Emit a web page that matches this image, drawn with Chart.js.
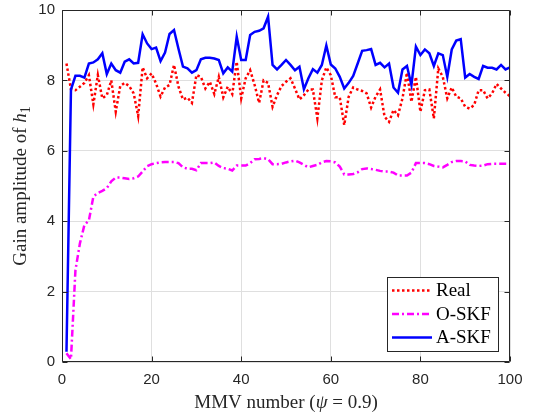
<!DOCTYPE html>
<html><head><meta charset="utf-8">
<script src="https://cdn.jsdelivr.net/npm/chart.js@4/dist/chart.umd.min.js"></script>
<style>html,body{margin:0;padding:0;background:#fff}#wrap{width:533px;height:416px}</style>
</head><body><div id="wrap"><canvas id="c" width="533" height="416"></canvas></div>
<script>
const mmv = [1,2,3,4,5,6,7,8,9,10,11,12,13,14,15,16,17,18,19,20,21,22,23,24,25,26,27,28,29,30,31,32,33,34,35,36,37,38,39,40,41,42,43,44,45,46,47,48,49,50,51,52,53,54,55,56,57,58,59,60,61,62,63,64,65,66,67,68,69,70,71,72,73,74,75,76,77,78,79,80,81,82,83,84,85,86,87,88,89,90,91,92,93,94,95,96,97,98,99,100];
const real = [8.48,7.75,7.72,7.82,7.93,8.15,7.32,8.15,7.49,7.58,
 8.0,7.11,7.84,7.93,7.84,7.63,6.99,8.37,8.06,8.2,
 7.91,7.54,7.8,7.87,8.44,7.82,7.46,7.51,7.36,8.15,
 8.1,7.77,7.96,7.61,8.1,7.52,7.82,7.61,8.53,7.49,
 8.06,8.29,7.87,7.36,8.0,7.93,7.25,7.58,7.84,7.96,
 8.06,7.77,7.46,7.58,7.74,7.74,6.92,8.0,8.37,8.15,
 7.52,7.52,6.73,7.54,7.8,7.74,7.7,7.63,7.23,7.54,
 7.74,6.97,6.82,7.16,7.01,7.49,8.22,7.39,8.1,7.11,
 7.72,7.74,6.92,8.34,8.1,7.49,7.8,7.54,7.49,7.25,
 7.2,7.3,7.72,7.72,7.49,7.63,7.9,7.77,7.65,7.55];
const oskf = [0.25,0.08,2.61,3.37,3.89,4.02,4.7,4.8,4.86,4.94,
 5.13,5.24,5.24,5.22,5.2,5.22,5.27,5.41,5.56,5.62,
 5.65,5.67,5.68,5.68,5.68,5.65,5.53,5.49,5.49,5.45,
 5.65,5.65,5.65,5.67,5.57,5.51,5.49,5.44,5.58,5.58,
 5.58,5.65,5.76,5.77,5.79,5.76,5.62,5.62,5.63,5.67,
 5.7,5.72,5.67,5.6,5.53,5.57,5.6,5.67,5.71,5.7,
 5.67,5.55,5.33,5.33,5.34,5.39,5.48,5.5,5.48,5.46,
 5.43,5.41,5.41,5.38,5.3,5.3,5.3,5.38,5.65,5.65,
 5.65,5.62,5.57,5.55,5.53,5.6,5.68,5.71,5.71,5.7,
 5.6,5.58,5.57,5.58,5.62,5.63,5.63,5.63,5.63,5.63];
const askf = [0.29,7.74,8.13,8.13,8.08,8.48,8.51,8.6,8.77,8.18,
 8.48,8.29,8.22,8.53,8.6,8.48,8.5,9.31,9.05,8.89,
 8.93,8.55,8.79,9.32,9.43,8.9,8.39,8.34,8.22,8.29,
 8.6,8.64,8.64,8.62,8.58,8.2,8.37,8.25,9.24,8.58,
 8.58,9.29,9.38,9.41,9.48,9.81,8.44,8.31,8.44,8.58,
 8.44,8.29,8.39,7.75,8.06,8.32,8.22,8.44,8.99,8.45,
 8.34,8.1,7.77,7.93,8.13,8.48,8.84,8.86,8.89,8.44,
 8.5,8.37,8.48,7.8,7.65,8.31,8.41,7.87,8.96,8.72,
 8.88,8.77,8.41,8.77,8.72,8.1,8.88,9.13,9.17,8.08,
 8.18,8.1,8.04,8.41,8.36,8.36,8.31,8.44,8.31,8.37];
const seriesNames = ['Real', 'O-SKF', 'A-SKF'];
const xTicks = [0, 20, 40, 60, 80, 100];
const yTicks = [0, 2, 4, 6, 8, 10];
const xTitleParts = ['MMV number (', 'ψ', ' = 0.9)'];
const yTitleParts = ['Gain amplitude of ', 'h', '1'];

const pts = arr => mmv.map((x, i) => ({x: x, y: arr[i]}));
const AX = '#262626';
const SERIF = '"Liberation Serif", "Times New Roman", serif';

const deco = {
  id: 'deco',
  afterDraw(chart) {
    const ctx = chart.ctx, a = chart.chartArea, xs = chart.scales.x, ys = chart.scales.y;
    ctx.save();
    ctx.strokeStyle = AX; ctx.lineWidth = 1;
    const L = Math.round(a.left) + 0.5, R = Math.round(a.right) - 0.5;
    const T = Math.round(a.top) + 0.5, B = Math.round(a.bottom) - 0.5;
    ctx.beginPath();
    ctx.rect(L, T, R - L, B - T);
    xTicks.forEach(v => {
      const p = Math.round(xs.getPixelForValue(v)) + 0.5;
      ctx.moveTo(p, B); ctx.lineTo(p, B - 5);
      ctx.moveTo(p, T); ctx.lineTo(p, T + 5);
    });
    yTicks.forEach(v => {
      const p = Math.round(ys.getPixelForValue(v)) + 0.5;
      ctx.moveTo(L, p); ctx.lineTo(L + 5, p);
      ctx.moveTo(R, p); ctx.lineTo(R - 5, p);
    });
    ctx.stroke();

    // legend
    const lx = 387.5, ly = 277.5, lw = 111, lh = 74;
    ctx.fillStyle = '#fff';
    ctx.fillRect(lx, ly, lw, lh);
    ctx.strokeStyle = AX; ctx.lineWidth = 1;
    ctx.strokeRect(lx, ly, lw, lh);
    const rows = [290.5, 314, 337.5];
    chart.data.datasets.forEach((ds, i) => {
      const y = rows[i];
      ctx.save();
      ctx.strokeStyle = ds.borderColor; ctx.lineWidth = ds.borderWidth;
      ctx.setLineDash(ds.borderDash || []);
      ctx.beginPath(); ctx.moveTo(392, y); ctx.lineTo(432, y); ctx.stroke();
      ctx.restore();
      ctx.fillStyle = '#000';
      ctx.font = '19px ' + SERIF;
      ctx.textBaseline = 'middle'; ctx.textAlign = 'left';
      ctx.fillText(ds.label, 436, y + 1);
    });

    // x title
    ctx.fillStyle = '#262626';
    ctx.textBaseline = 'middle'; ctx.textAlign = 'left';
    const fN = '19px ' + SERIF, fI = 'italic 19px ' + SERIF;
    const fonts = [fN, fI, fN];
    let w = 0;
    xTitleParts.forEach((t, i) => { ctx.font = fonts[i]; w += ctx.measureText(t).width; });
    let x = (a.left + a.right) / 2 - w / 2;
    xTitleParts.forEach((t, i) => { ctx.font = fonts[i]; ctx.fillText(t, x, 403); x += ctx.measureText(t).width; });

    // y title
    ctx.save();
    ctx.translate(21, (a.top + a.bottom) / 2);
    ctx.rotate(-Math.PI / 2);
    const yf = [fN, fI, '14px ' + SERIF];
    const yoff = [0, 0, 5];
    w = 0;
    yTitleParts.forEach((t, i) => { ctx.font = yf[i]; w += ctx.measureText(t).width; });
    x = -w / 2;
    yTitleParts.forEach((t, i) => { ctx.font = yf[i]; ctx.fillText(t, x, yoff[i]); x += ctx.measureText(t).width; });
    ctx.restore();
    ctx.restore();
  }
};

new Chart(document.getElementById('c'), {
  type: 'line',
  data: {
    datasets: [
      {label: seriesNames[0], data: pts(real), borderColor: '#ff0000', borderWidth: 2.5, borderDash: [2.5, 2.5], order: 3},
      {label: seriesNames[1], data: pts(oskf), borderColor: '#ff00ff', borderWidth: 2.5, borderDash: [7, 3, 2, 3], order: 2},
      {label: seriesNames[2], data: pts(askf), borderColor: '#0000ff', borderWidth: 2.5, order: 1}
    ]
  },
  options: {
    responsive: false,
    devicePixelRatio: 1,
    animation: false,
    layout: {autoPadding: false, padding: {left: 0, right: 23, top: 10, bottom: 0}},
    elements: {point: {radius: 0}, line: {tension: 0, fill: false}},
    plugins: {legend: {display: false}, tooltip: {enabled: false}},
    scales: {
      x: {
        type: 'linear', min: 0, max: 100,
        afterBuildTicks: s => { s.ticks = xTicks.map(v => ({value: v})); },
        afterFit: s => { s.height = 54; s.paddingLeft = 0; s.paddingRight = 0; },
        ticks: {color: AX, font: {family: '"Liberation Sans", Arial, sans-serif', size: 15}, padding: 9, maxRotation: 0},
        grid: {color: '#dfdfdf', drawTicks: false, lineWidth: 1},
        border: {display: false}
      },
      y: {
        type: 'linear', min: 0, max: 10,
        afterBuildTicks: s => { s.ticks = yTicks.map(v => ({value: v})); },
        afterFit: s => { s.width = 62; s.paddingTop = 0; s.paddingBottom = 0; },
        ticks: {color: AX, font: {family: '"Liberation Sans", Arial, sans-serif', size: 15}, padding: 7},
        grid: {color: '#dfdfdf', drawTicks: false, lineWidth: 1},
        border: {display: false}
      }
    }
  },
  plugins: [deco]
});
</script>
</body></html>
